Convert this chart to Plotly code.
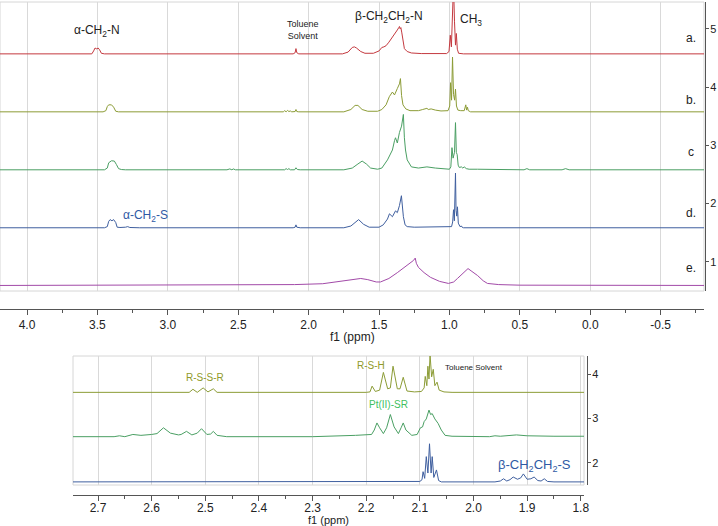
import plotly.graph_objects as go

# ---------------- top panel: full 1H NMR spectra (ppm, intensity) ----------------
spec_a = [(4.20,0),(3.54,0),(3.527,0.05),(3.517,0.10),(3.505,0.085),(3.495,0.10),(3.485,0.07),(3.472,0.01),(3.45,0),
          (2.11,0),(2.096,0.02),(2.09,0.09),(2.084,0.02),(2.07,0),(1.76,0),(1.72,0.03),(1.69,0.11),(1.675,0.12),
          (1.66,0.10),(1.63,0.04),(1.60,0.01),(1.54,0.01),(1.50,0.05),(1.48,0.11),(1.465,0.12),(1.45,0.14),(1.43,0.20),
          (1.405,0.28),(1.385,0.36),(1.37,0.41),(1.36,0.45),(1.355,0.47),(1.35,0.43),(1.345,0.45),(1.338,0.36),
          (1.33,0.20),(1.32,0.09),(1.30,0.04),(1.27,0.015),(1.20,0.005),(1.02,0.005),(1.003,0.04),(0.994,0.32),
          (0.986,0.12),(0.978,0.55),(0.971,1.2),(0.964,0.55),(0.957,0.15),(0.951,0.35),(0.944,0.08),(0.935,0.01),
          (0.90,0),(-0.85,0)]
spec_b = [(4.20,0),(3.46,0),(3.44,0.02),(3.43,0.09),(3.42,0.12),(3.40,0.12),(3.385,0.08),(3.37,0.01),(3.35,0),
          (2.18,0),(2.17,0.02),(2.16,0),(2.15,0.025),(2.14,0.005),(2.13,0.015),(2.12,0),(2.096,0.005),(2.09,0.04),
          (2.084,0.005),(2.07,0),(1.75,0),(1.70,0.04),(1.67,0.11),(1.65,0.11),(1.62,0.04),(1.58,0.01),(1.51,0.01),
          (1.48,0.04),(1.45,0.12),(1.427,0.26),(1.405,0.34),(1.39,0.29),(1.37,0.40),(1.355,0.48),(1.348,0.57),
          (1.34,0.28),(1.33,0.12),(1.31,0.05),(1.28,0.02),(1.22,0.02),(1.19,0.04),(1.16,0.06),(1.15,0.04),
          (1.13,0.05),(1.10,0.03),(1.06,0.015),(1.01,0.02),(0.998,0.1),(0.992,0.5),(0.985,0.2),(0.978,0.94),
          (0.971,0.3),(0.963,0.2),(0.957,0.39),(0.95,0.1),(0.94,0.03),(0.92,0.02),(0.895,0.02),(0.884,0.12),
          (0.878,0.03),(0.872,0.08),(0.866,0.02),(0.85,0),(-0.85,0)]
spec_c = [(4.20,0),(3.45,0),(3.43,0.03),(3.42,0.12),(3.40,0.155),(3.38,0.15),(3.365,0.09),(3.35,0.02),(3.33,0.005),
          (3.30,0),(2.58,0),(2.56,0.015),(2.545,0),(2.535,0.015),(2.52,0),(2.17,0),(2.16,0.02),(2.15,0.005),
          (2.14,0.02),(2.13,0),(2.10,0),(2.09,0.035),(2.08,0.005),(2.06,0),(1.75,0),(1.69,0.03),(1.65,0.10),
          (1.62,0.15),(1.59,0.10),(1.56,0.03),(1.51,0.01),(1.48,0.03),(1.44,0.17),(1.405,0.34),(1.39,0.50),
          (1.383,0.55),(1.37,0.46),(1.355,0.64),(1.34,0.75),(1.327,0.95),(1.32,0.55),(1.312,0.34),(1.30,0.17),
          (1.27,0.05),(1.22,0.03),(1.16,0.05),(1.10,0.03),(1.03,0.01),(1.0,0.01),(0.99,0.05),(0.982,0.38),
          (0.974,0.2),(0.964,0.3),(0.957,0.81),(0.951,0.3),(0.945,0.26),(0.938,0.08),(0.93,0.04),(0.915,0.05),
          (0.905,0.03),(0.895,0.05),(0.88,0.02),(0.86,0.01),(0.80,0.01),(0.60,0.005),(0.47,0),(0.45,0.02),
          (0.43,0),(0.20,0),(0.175,0.02),(0.15,0),(-0.85,0)]
spec_d = [(4.20,0),(3.45,0),(3.43,0.02),(3.42,0.11),(3.41,0.14),(3.397,0.12),(3.385,0.14),(3.37,0.09),(3.36,0.01),
          (3.34,0.005),(3.30,0.01),(3.285,0.02),(3.27,0.005),(3.20,0),(2.11,0),(2.096,0.01),(2.09,0.05),
          (2.084,0.01),(2.06,0),(1.93,0),(1.91,0.01),(1.89,0),(1.75,0),(1.70,0.03),(1.66,0.12),(1.645,0.14),
          (1.61,0.06),(1.57,0.01),(1.50,0.01),(1.47,0.05),(1.44,0.15),(1.426,0.24),(1.405,0.19),(1.395,0.25),
          (1.383,0.29),(1.37,0.26),(1.355,0.38),(1.341,0.55),(1.335,0.40),(1.327,0.19),(1.315,0.05),(1.30,0.02),
          (1.25,0.01),(1.0,0.01),(0.985,0.02),(0.977,0.1),(0.971,0.31),(0.965,0.12),(0.961,0.5),(0.957,0.94),
          (0.953,0.3),(0.948,0.2),(0.943,0.36),(0.937,0.08),(0.925,0.02),(0.915,0.03),(0.91,0.01),(0.90,0),
          (-0.85,0)]
spec_e = [(4.20,0),(2.5,0.005),(2.1,0.015),(1.9,0.03),(1.8,0.06),(1.7,0.10),(1.63,0.12),(1.58,0.10),(1.52,0.06),
          (1.49,0.06),(1.43,0.12),(1.37,0.22),(1.31,0.33),(1.277,0.40),(1.255,0.43),(1.243,0.47),(1.235,0.38),
          (1.22,0.31),(1.18,0.22),(1.135,0.14),(1.07,0.07),(1.007,0.035),(0.97,0.06),(0.943,0.12),(0.90,0.21),
          (0.868,0.29),(0.84,0.24),(0.80,0.17),(0.76,0.08),(0.73,0.035),(0.65,0.015),(0.5,0.005),(-0.85,0)]

top_specs = [spec_a, spec_b, spec_c, spec_d, spec_e]
top_offsets = [4.57, 3.575, 2.58, 1.585, 0.595]
top_names = ["a.", "b.", "c", "d.", "e."]
top_colors = ["#c4393f", "#8c9c36", "#4a9f63", "#3f5f9f", "#a24aa8"]
top_xticks = [4.0, 3.5, 3.0, 2.5, 2.0, 1.5, 1.0, 0.5, 0.0, -0.5]
top_xticktext = ["4.0", "3.5", "3.0", "2.5", "2.0", "1.5", "1.0", "0.5", "0.0", "-0.5"]
top_yticks = [1, 2, 3, 4, 5]

# ---------------- bottom panel: zoom 1.8-2.75 ppm ----------------
zoom_b = [(2.75,0),(2.53,0),(2.523,0.07),(2.515,0.0),(2.504,0.10),(2.495,0.01),(2.485,0.08),(2.478,0.0),
          (2.20,0),(2.193,0.01),(2.189,0.14),(2.183,0.02),(2.175,0.05),(2.168,0.45),(2.16,0.08),(2.155,0.10),
          (2.15,0.59),(2.142,0.08),(2.137,0.08),(2.131,0.34),(2.124,0.03),(2.11,0.01),(2.097,0.02),(2.092,0.10),
          (2.09,0.36),(2.087,0.15),(2.085,0.59),(2.083,0.30),(2.081,0.85),(2.078,0.35),(2.075,0.52),(2.072,0.15),
          (2.068,0.23),(2.064,0.05),(2.055,0.01),(2.04,0),(1.79,0)]
zoom_c = [(2.75,0),(2.67,0.0),(2.66,0.02),(2.65,0.0),(2.635,0.05),(2.62,0.03),(2.60,0.05),(2.59,0.07),(2.578,0.20),
          (2.565,0.08),(2.55,0.04),(2.545,0.05),(2.535,0.12),(2.525,0.04),(2.515,0.08),(2.507,0.18),(2.497,0.05),
          (2.49,0.06),(2.485,0.12),(2.478,0.03),(2.46,0.0),(2.30,0.0),(2.22,0.03),(2.19,0.05),(2.185,0.15),
          (2.18,0.31),(2.175,0.20),(2.168,0.07),(2.162,0.20),(2.155,0.50),(2.148,0.22),(2.14,0.07),(2.135,0.20),
          (2.131,0.31),(2.126,0.15),(2.115,0.03),(2.105,0.05),(2.099,0.20),(2.095,0.22),(2.092,0.34),(2.088,0.40),
          (2.085,0.50),(2.083,0.60),(2.08,0.50),(2.077,0.52),(2.072,0.40),(2.066,0.30),(2.06,0.15),(2.053,0.03),
          (2.04,0.01),(2.0,0.0),(1.97,0.0),(1.96,0.02),(1.95,0.01),(1.92,0.04),(1.90,0.02),(1.85,0.01),(1.79,0.01)]
zoom_d = [(2.75,0),(2.11,0),(2.10,0.01),(2.096,0.05),(2.094,0.23),(2.091,0.08),(2.088,0.57),(2.085,0.20),
          (2.082,0.86),(2.079,0.20),(2.077,0.57),(2.074,0.10),(2.069,0.27),(2.065,0.03),(2.06,0),(1.96,0),
          (1.95,0.02),(1.944,0.07),(1.938,0.02),(1.932,0.05),(1.926,0.11),(1.918,0.06),(1.912,0.09),(1.907,0.18),
          (1.90,0.06),(1.893,0.07),(1.887,0.11),(1.88,0.03),(1.874,0.02),(1.868,0.07),(1.862,0.01),(1.85,0),(1.79,0)]

bot_specs = [zoom_b, zoom_c, zoom_d]
bot_offsets = [3.59, 2.59, 1.57]
bot_colors = ["#8c9c36", "#4a9f63", "#3f5f9f"]
bot_xticks = [2.7, 2.6, 2.5, 2.4, 2.3, 2.2, 2.1, 2.0, 1.9, 1.8]
bot_xticktext = ["2.7", "2.6", "2.5", "2.4", "2.3", "2.2", "2.1", "2.0", "1.9", "1.8"]
bot_yticks = [2, 3, 4]

FONT = "Liberation Sans, Arial, Helvetica, sans-serif"
AX = "#555555"
GRID = "#d9d9d9"

fig = go.Figure()
for spec, off, col in zip(top_specs, top_offsets, top_colors):
    fig.add_trace(go.Scatter(x=[p for p, _ in spec], y=[v + off for _, v in spec], mode="lines",
                             line=dict(color=col, width=1), xaxis="x", yaxis="y",
                             showlegend=False, hoverinfo="skip"))
for spec, off, col in zip(bot_specs, bot_offsets, bot_colors):
    fig.add_trace(go.Scatter(x=[p for p, _ in spec], y=[v + off for _, v in spec], mode="lines",
                             line=dict(color=col, width=1), xaxis="x2", yaxis="y2",
                             showlegend=False, hoverinfo="skip"))

W, H = 718, 526
def px(x): return x / W
def py(y): return (H - y) / H

common_x = dict(anchor="free", ticks="outside", ticklen=5, tickcolor=AX, showline=True, linecolor=AX,
                linewidth=1, showgrid=True, gridcolor=GRID, gridwidth=1, zeroline=False, automargin=False,
                tickfont=dict(size=12, color="#222"))
common_y = dict(anchor="free", side="right", ticks="outside", ticklen=3, tickcolor=AX, showline=True,
                linecolor=AX, linewidth=1, showgrid=False, zeroline=False, automargin=False,
                ticklabelstandoff=-1, tickfont=dict(size=11, color="#222"))

fig.update_layout(
    width=W, height=H, margin=dict(l=0, r=0, t=0, b=0, autoexpand=False),
    paper_bgcolor="white", plot_bgcolor="white",
    font=dict(family=FONT, size=12, color="#222"),
    xaxis=dict(domain=[0, px(704)], range=[4.192, -0.808], position=py(309),
               tickvals=top_xticks, ticktext=top_xticktext,
               minor=dict(dtick=0.25, tick0=0, ticks="outside", ticklen=3, tickcolor=AX, showgrid=False),
               **common_x),
    yaxis=dict(domain=[py(291), py(2)], range=[0.5, 5.46], position=px(705),
               tickvals=top_yticks, **common_y),
    xaxis2=dict(domain=[px(73), px(584)], range=[2.7466, 1.794], position=py(495),
                tickvals=bot_xticks, ticktext=bot_xticktext, ticklabelstandoff=-3,
                minor=dict(dtick=0.05, tick0=0, ticks="outside", ticklen=3, tickcolor=AX, showgrid=False),
                **common_x),
    yaxis2=dict(domain=[py(485), py(356)], range=[1.5, 4.41], position=px(587),
                tickvals=bot_yticks, **common_y),
)

# light frames around plot areas
for xr, yr in [("x domain", "y domain"), ("x2 domain", "y2 domain")]:
    fig.add_shape(type="rect", xref=xr, yref=yr, x0=0, x1=1, y0=0, y1=1,
                  line=dict(color="#d6d6d6", width=1), layer="below")

def note(text, x, y, xref, yref, size=12, color="#222"):
    fig.add_annotation(text=text, x=x, y=y, xref=xref, yref=yref, showarrow=False,
                       font=dict(size=size, color=color, family=FONT), xanchor="center", yanchor="middle")

# axis titles
note("f1 (ppm)", px(352), py(337), "paper", "paper", 12)
note("f1 (ppm)", px(328), py(520), "paper", "paper", 11)

# top annotations
note("α-CH<sub>2</sub>-N", 3.50, 4.97, "x", "y", 12)
note("Toluene<br>Solvent", 2.04, 4.98, "x", "y", 9)
note("β-CH<sub>2</sub>CH<sub>2</sub>-N", 1.43, 5.2, "x", "y", 12)
note("CH<sub>3</sub>", 0.85, 5.15, "x", "y", 12)
note("α-CH<sub>2</sub>-S", 3.16, 1.79, "x", "y", 12, "#2f5aa5")
for name, ylab in zip(top_names, [4.85, 3.78, 2.89, 1.84, 0.90]):
    note(name, -0.715, ylab, "x", "y", 12)

# bottom annotations
note("R-S-S-R", 2.50, 3.93, "x2", "y2", 10, "#8f9a2a")
note("R-S-H", 2.191, 4.2, "x2", "y2", 10, "#8f9a2a")
note("Pt(II)-SR", 2.159, 3.32, "x2", "y2", 10, "#3fbf5f")
note("Toluene Solvent", 2.00, 4.16, "x2", "y2", 8)
note("β-CH<sub>2</sub>CH<sub>2</sub>-S", 1.887, 1.95, "x2", "y2", 13, "#2f5aa5")

# remove the default page margin so the figure sits at the window's top-left corner
fig.write_html("out.html", config={"displayModeBar": False},
               post_script="document.body.style.margin='0';document.body.style.overflow='hidden';")
